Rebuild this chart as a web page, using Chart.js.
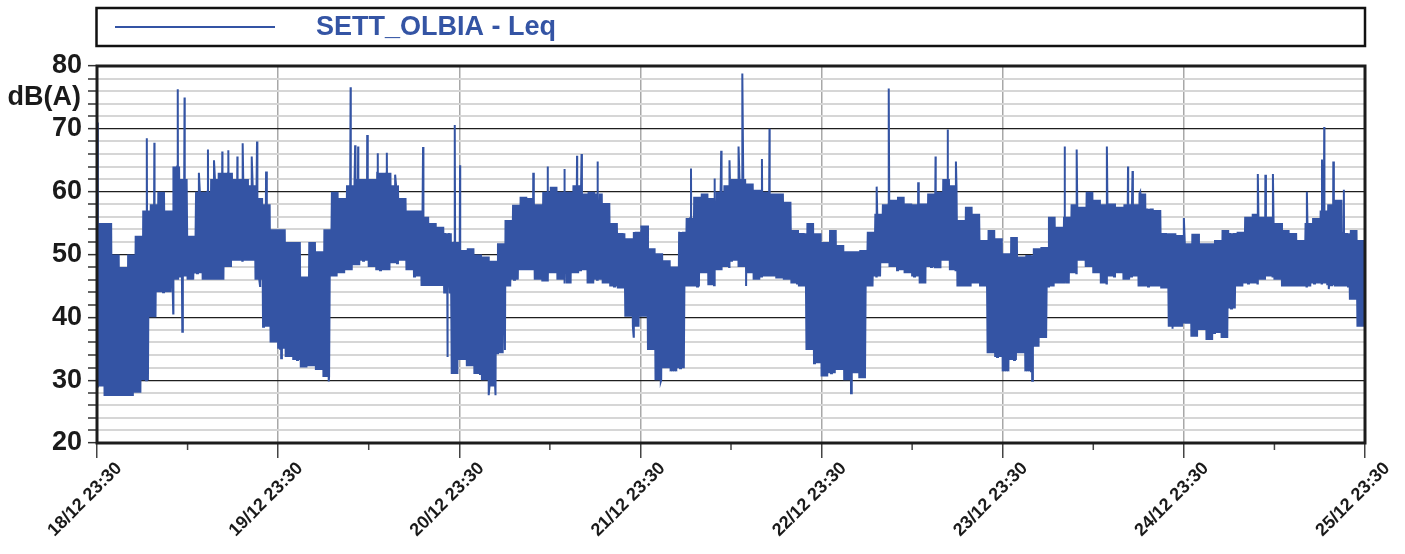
<!DOCTYPE html>
<html>
<head>
<meta charset="utf-8">
<title>SETT_OLBIA - Leq</title>
<script src="https://cdn.jsdelivr.net/npm/chart.js@4/dist/chart.umd.min.js"></script>
<style>
  html, body { margin: 0; padding: 0; background: #fff; }
  .chart-container { width: 1405px; height: 554px; }
</style>
</head>
<body>
<div class="chart-container"><canvas id="myChart"></canvas></div>
<script>
"use strict";

//////////////////////////////
// Data (hours from 18/12 23:30, dB(A))
const seriesName = "SETT_OLBIA - Leq";
const startDay = 18;
const totalHours = 168;

// upper edge of the dense band, one value per hour
const hourHigh = [
  55, 55, 50, 48, 50, 53, 57, 58, 60, 57, 64, 62, 53, 60, 60, 62, 63, 63, 62, 62, 61, 59, 58, 54,
  54, 52, 52, 46.5, 52, 50.5, 54, 60, 59, 61, 62, 62, 62, 63, 63, 61, 59, 57, 57, 56, 55, 54.4, 53.4, 52,
  50.7, 51, 50, 49.7, 49, 51.8, 55.5, 57.9, 59.2, 59, 58, 60, 60.8, 60, 60, 61, 59.7, 60, 59.7, 58.2, 55, 53.4, 52.6, 53.6,
  54.6, 51, 50.2, 49.1, 48.1, 53.6, 55.8, 59.2, 59.7, 59, 60, 61, 62, 62, 61.3, 60.3, 60, 59.7, 59.7, 58.4, 53.9, 53.4, 55, 53.4,
  52, 53.9, 51.5, 50.5, 50.5, 50.7, 53.6, 56.5, 58, 58.7, 59.2, 58.1, 58, 58.1, 59.7, 60, 62, 61, 55.5, 57.6, 56.5, 52.3, 53.9, 52.6,
  50.2, 52.8, 49.7, 49.9, 51, 51.2, 56, 54.4, 56, 58, 57.6, 60, 58.7, 58, 58.1, 57.6, 58, 58, 59.7, 57.3, 57.1, 53.4, 53.4, 53.1,
  51.8, 53.3, 51.8, 51.8, 52.3, 53.9, 53.4, 53.6, 56, 56.5, 56, 56, 55, 53.9, 53.4, 52.3, 55, 55.8, 57, 58, 58.7, 53.4, 53.9, 52.3,
];

// lower edge of the dense band, one value per hour
const hourLow = [
  29, 27.5, 27.5, 27.5, 27.5, 28, 30, 40, 44, 44, 46, 46.5, 46, 47, 46, 46, 46, 48, 49, 49, 49, 46, 38.5, 36,
  35, 33.7, 33.2, 32, 32.2, 31.6, 30.5, 46.5, 47, 47.5, 48.3, 49, 48, 47.5, 47.5, 48.6, 49, 47.5, 46.5, 45, 45, 45, 43.8, 31,
  33.2, 32.2, 31, 30, 29, 34.3, 44.9, 46, 47.5, 47.5, 46, 45.7, 47, 46, 45.4, 47, 47.5, 45.4, 46, 45.4, 44.9, 44.6, 40.1, 38.5,
  40.1, 34.8, 30, 31.9, 31.4, 31.9, 44.9, 44.9, 47, 45.1, 47.5, 48, 49, 48, 47, 46, 46.5, 46.5, 46.2, 46, 45.4, 44.9, 34.8, 32.7,
  30.6, 31.1, 31.6, 30, 31.1, 30.3, 44.9, 46.5, 48.6, 48, 47.5, 47, 46.5, 45.4, 48, 47.8, 49, 47.5, 44.9, 44.9, 45.4, 44.9, 34.3, 33.7,
  31.4, 33.2, 34.3, 31.4, 35.3, 36.7, 44.9, 45.4, 45.4, 47, 49, 48, 47, 45.4, 46.5, 47, 46, 46.5, 44.9, 44.9, 44.9, 44.6, 38.5, 38.5,
  39, 36.9, 38, 36.4, 37.5, 36.7, 41.4, 44.9, 45.4, 45.4, 46, 46.5, 46, 44.9, 44.9, 44.9, 44.9, 45.4, 45.4, 45.1, 44.9, 44.9, 42.8, 38.5,
];

// isolated peaks [hour, dB]
const peaks = [
  [0.1, 71], [6.6, 68.5], [7.6, 67.8], [10.7, 76.3], [11.6, 75], [13.5, 63], [14.7, 66.7], [15.5, 65],
  [16.6, 66.4], [17.4, 66.6], [18.6, 65.6], [19.3, 67.7], [20.5, 65.6], [21.2, 68], [22.4, 63.2],
  [33.6, 76.6], [34.2, 67.4], [34.6, 67.2], [35.8, 69], [37.2, 66.1], [38.4, 66.2], [39.5, 62.7],
  [43.2, 67.1], [47.4, 70.6], [48.1, 64.2],
  [57.8, 63], [59.7, 64], [61.9, 63.6], [63.6, 65.7], [64.2, 66], [66.3, 64.8],
  [78.7, 63.7], [81.8, 62.1], [82.7, 66.5], [83.8, 65], [85.0, 67.2], [85.5, 78.8], [88.1, 65.2], [89.1, 70],
  [103.3, 60.8], [104.9, 76.4], [108.8, 61.5], [111.1, 65.6], [112.7, 69.9], [113.8, 64.8],
  [128.2, 67.2], [129.8, 66.7], [133.8, 67.2], [136.6, 64], [137.2, 63.3], [138.2, 59.9], [144.0, 55.8],
  [153.8, 62.8], [154.8, 62.7], [155.8, 62.8], [160.3, 60], [162.3, 65.1], [162.6, 70.3], [163.8, 64.8], [165.2, 60.3],
];

// isolated dips [hour, dB]
const dips = [
  [0.15, 34], [10.1, 40.6], [11.3, 37.7], [21.6, 45], [24.4, 33.5], [30.7, 29.8], [46.4, 33.7],
  [51.9, 27.6], [52.8, 27.6], [54.05, 34.8], [71.1, 36.9], [74.7, 29.8], [86.0, 45],
  [99.9, 27.9], [123.9, 29.9], [142.5, 38.2], [163.2, 44.5],
];

//////////////////////////////
// Styles
const lineColor = "#3454a4";
const textColor = "#1a1a1a";
const fontFamily = "'Liberation Sans', Arial, Helvetica, sans-serif";

//////////////////////////////
// Build series: dense band + single peaks and dips
const points = [];
for (let h = 0; h < hourHigh.length; h++) {
  for (let k = 0; k < 8; k++) {
    points.push({ x: h + k / 8, y: k % 2 ? hourHigh[h] : hourLow[h] });
  }
}
peaks.forEach(([x, y]) => points.push({ x: x, y: y }));
dips.forEach(([x, y]) => points.push({ x: x, y: y }));
points.sort((a, b) => a.x - b.x);

const dayLabel = function (value) {
  if (value % 24 !== 0) return "";
  return `${startDay + value / 24}/12 23:30`;
};

//////////////////////////////
// Plugins
const framePlugin = {
  id: "frame",
  afterDatasetsDraw(chart) {
    const { ctx, chartArea } = chart;
    const xScale = chart.scales.x;
    ctx.save();
    // short ticks at half days
    ctx.strokeStyle = "#444";
    ctx.lineWidth = 1.5;
    xScale.ticks.forEach((t) => {
      if (t.value % 24 === 12) {
        const px = xScale.getPixelForValue(t.value);
        ctx.beginPath();
        ctx.moveTo(px, chartArea.bottom);
        ctx.lineTo(px, chartArea.bottom + 7);
        ctx.stroke();
      }
    });
    // plot frame
    ctx.strokeStyle = "#1c1c1c";
    ctx.lineWidth = 3;
    ctx.strokeRect(chartArea.left, chartArea.top, chartArea.right - chartArea.left, chartArea.bottom - chartArea.top);
    ctx.restore();
  },
  afterDraw(chart) {
    const { ctx, chartArea } = chart;
    const yScale = chart.scales.y;
    ctx.save();
    // unit label
    ctx.font = `bold 27px ${fontFamily}`;
    ctx.fillStyle = textColor;
    ctx.textAlign = "right";
    ctx.textBaseline = "middle";
    ctx.fillText("dB(A)", 81, yScale.getPixelForValue(75));
    // legend box
    ctx.strokeStyle = "#111";
    ctx.lineWidth = 2.5;
    ctx.strokeRect(chartArea.left - 0.5, 8, chartArea.right - chartArea.left + 0.5, 38);
    ctx.strokeStyle = lineColor;
    ctx.lineWidth = 2;
    ctx.beginPath();
    ctx.moveTo(chartArea.left + 18, 27);
    ctx.lineTo(chartArea.left + 178, 27);
    ctx.stroke();
    ctx.font = `bold 27px ${fontFamily}`;
    ctx.fillStyle = lineColor;
    ctx.textAlign = "left";
    ctx.fillText(seriesName, chartArea.left + 219, 28);
    ctx.restore();
  },
};

//////////////////////////////
// Chart
const canvas = document.getElementById("myChart");
const chart = new Chart(canvas.getContext("2d"), {
  type: "line",
  data: {
    datasets: [
      {
        label: seriesName,
        data: points,
        borderColor: lineColor,
        borderWidth: 2,
        pointRadius: 0,
        tension: 0,
        fill: false,
      },
    ],
  },
  options: {
    responsive: true,
    maintainAspectRatio: false,
    animation: false,
    events: [],
    layout: { padding: { top: 66, right: 40, left: 0, bottom: 0 } },
    plugins: {
      legend: { display: false },
      tooltip: { enabled: false },
    },
    scales: {
      x: {
        type: "linear",
        min: 0,
        max: totalHours,
        afterFit(scale) {
          scale.height = 111;
        },
        afterBuildTicks(scale) {
          scale.ticks = [];
          for (let v = 0; v <= totalHours; v += 12) scale.ticks.push({ value: v });
        },
        border: { display: false },
        grid: {
          color: (c) => (c.tick && c.tick.value % 24 === 0 ? "#a8a8a8" : "rgba(0,0,0,0)"),
          lineWidth: 1.5,
          tickLength: 15,
          tickWidth: 1.5,
          tickColor: (c) => (c.tick && c.tick.value % 24 === 0 ? "#444" : "rgba(0,0,0,0)"),
        },
        ticks: {
          autoSkip: false,
          minRotation: 45,
          maxRotation: 45,
          padding: 0,
          labelOffset: 22,
          color: textColor,
          font: { family: fontFamily, size: 18, weight: "bold" },
          callback: dayLabel,
        },
      },
      y: {
        min: 20,
        max: 80,
        afterFit(scale) {
          scale.width = 97;
        },
        border: { display: false },
        grid: {
          color: (c) => (c.tick && c.tick.value % 10 === 0 ? "#1e1e1e" : "#d6d6d6"),
          lineWidth: (c) => (c.tick && c.tick.value % 10 === 0 ? 1.3 : 2),
          tickLength: 9,
          tickWidth: 1.5,
          tickColor: "#333",
        },
        ticks: {
          stepSize: 2,
          autoSkip: false,
          padding: 6,
          color: textColor,
          font: { family: fontFamily, size: 27, weight: "bold" },
          callback: (value) => (value % 10 === 0 ? value : ""),
        },
      },
    },
  },
  plugins: [framePlugin],
});
</script>
</body>
</html>
